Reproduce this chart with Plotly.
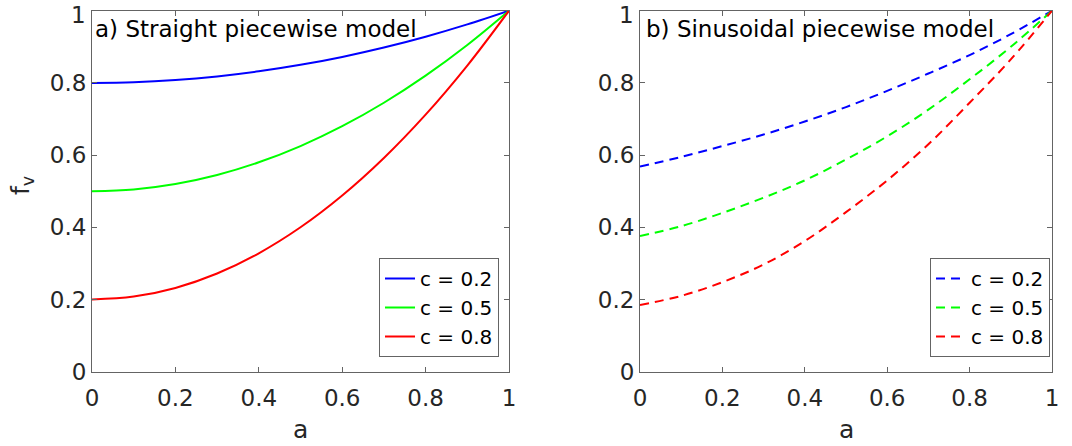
import plotly.graph_objects as go

a_vals = [0.0, 0.1, 0.2, 0.3, 0.4, 0.5, 0.6, 0.7, 0.8, 0.9, 1.0]

# a) Straight piecewise model
straight_c02 = [0.800, 0.802, 0.808, 0.818, 0.832, 0.850, 0.872, 0.898, 0.928, 0.962, 1.0]
straight_c05 = [0.500, 0.505, 0.520, 0.545, 0.580, 0.625, 0.680, 0.745, 0.820, 0.905, 1.0]
straight_c08 = [0.200, 0.208, 0.232, 0.272, 0.328, 0.400, 0.488, 0.592, 0.712, 0.848, 1.0]

# b) Sinusoidal piecewise model
sin_c02 = [0.568, 0.595, 0.625, 0.657, 0.693, 0.733, 0.778, 0.826, 0.877, 0.935, 1.0]
sin_c05 = [0.376, 0.403, 0.440, 0.482, 0.530, 0.588, 0.652, 0.726, 0.810, 0.900, 1.0]
sin_c08 = [0.185, 0.210, 0.248, 0.297, 0.362, 0.442, 0.530, 0.630, 0.745, 0.865, 1.0]

labels = ["c = 0.2", "c = 0.5", "c = 0.8"]
colors = ["#0000FF", "#00FF00", "#FF0000"]
titles = ["a) Straight piecewise model", "b) Sinusoidal piecewise model"]
tick_vals = [0, 0.2, 0.4, 0.6, 0.8, 1]
tick_text = ["0", "0.2", "0.4", "0.6", "0.8", "1"]

W, H = 1072, 446
FONT = "DejaVu Sans"
TXT = "#262626"
LINE = "#646464"

fig = go.Figure()

for ys, lab, col in zip([straight_c02, straight_c05, straight_c08], labels, colors):
    fig.add_trace(go.Scatter(x=a_vals, y=ys, mode="lines", name=lab,
                             line=dict(color=col, width=2, shape="spline"),
                             xaxis="x", yaxis="y", legend="legend"))
for ys, lab, col in zip([sin_c02, sin_c05, sin_c08], labels, colors):
    fig.add_trace(go.Scatter(x=a_vals, y=ys, mode="lines", name=lab,
                             line=dict(color=col, width=2, shape="spline", dash="9px,6px"),
                             xaxis="x2", yaxis="y2", legend="legend2"))

x1 = (92 / W, 509 / W)
x2 = (640 / W, 1052 / W)
yd = ((H - 371.7) / H, (H - 10.7) / H)

axis_common = dict(range=[0, 1], showline=True, linecolor=LINE, linewidth=1, mirror="ticks",
                   ticks="inside", ticklen=5, tickcolor=LINE, showgrid=False, zeroline=False,
                   tickvals=tick_vals, automargin=False,
                   ticklabeloverflow="allow",
                   tickfont=dict(family=FONT, size=23, color=TXT))
xaxis_extra = dict(ticklabelstandoff=6, ticktext=tick_text)
# top y label "1" is nudged down inside the figure (as in the reference), drawn separately
yaxis_extra = dict(ticktext=tick_text[:-1] + [""])

fig.update_layout(
    width=W, height=H,
    margin=dict(l=0, r=0, t=0, b=0, autoexpand=False),
    paper_bgcolor="white", plot_bgcolor="white",
    xaxis=dict(domain=x1, anchor="y", **axis_common, **xaxis_extra),
    yaxis=dict(domain=yd, anchor="x", **axis_common, **yaxis_extra),
    xaxis2=dict(domain=x2, anchor="y2", **axis_common, **xaxis_extra),
    yaxis2=dict(domain=yd, anchor="x2", **axis_common, **yaxis_extra),
    legend=dict(x=499 / W, y=(H - 357) / H, xanchor="right", yanchor="bottom",
                bordercolor=LINE, borderwidth=1, bgcolor="white",
                font=dict(family=FONT, size=20, color="black"), tracegroupgap=0),
    legend2=dict(x=1050 / W, y=(H - 357) / H, xanchor="right", yanchor="bottom",
                 bordercolor=LINE, borderwidth=1, bgcolor="white",
                 font=dict(family=FONT, size=20, color="black"), tracegroupgap=0),
    showlegend=True,
)

for xl in [88, 636]:
    fig.add_annotation(text=tick_text[-1], xref="paper", yref="paper", x=xl / W, y=(H - 15) / H,
                       xanchor="right", yanchor="middle", showarrow=False,
                       font=dict(family=FONT, size=23, color=TXT))

# panel titles inside plot area
fig.add_annotation(text=titles[0], xref="paper", yref="paper", x=93 / W, y=(H - 29) / H,
                   xanchor="left", yanchor="middle", showarrow=False,
                   font=dict(family=FONT, size=23, color="black"))
fig.add_annotation(text=titles[1], xref="paper", yref="paper", x=644 / W, y=(H - 29) / H,
                   xanchor="left", yanchor="middle", showarrow=False,
                   font=dict(family=FONT, size=23, color="black"))
# axis labels
for xc in [(x1[0] + x1[1]) / 2, (x2[0] + x2[1]) / 2]:
    fig.add_annotation(text="a", xref="paper", yref="paper", x=xc, y=(H - 429) / H,
                       xanchor="center", yanchor="middle", showarrow=False,
                       font=dict(family=FONT, size=25, color=TXT))
fig.add_annotation(text="f<sub>v</sub>", xref="paper", yref="paper", x=22 / W, y=(H - 186) / H,
                   xanchor="center", yanchor="middle", showarrow=False, textangle=-90,
                   font=dict(family=FONT, size=25, color=TXT))

fig.write_html("out.html", config={"displayModeBar": False},
               post_script="document.body.style.margin='0';document.body.style.overflow='hidden';")
